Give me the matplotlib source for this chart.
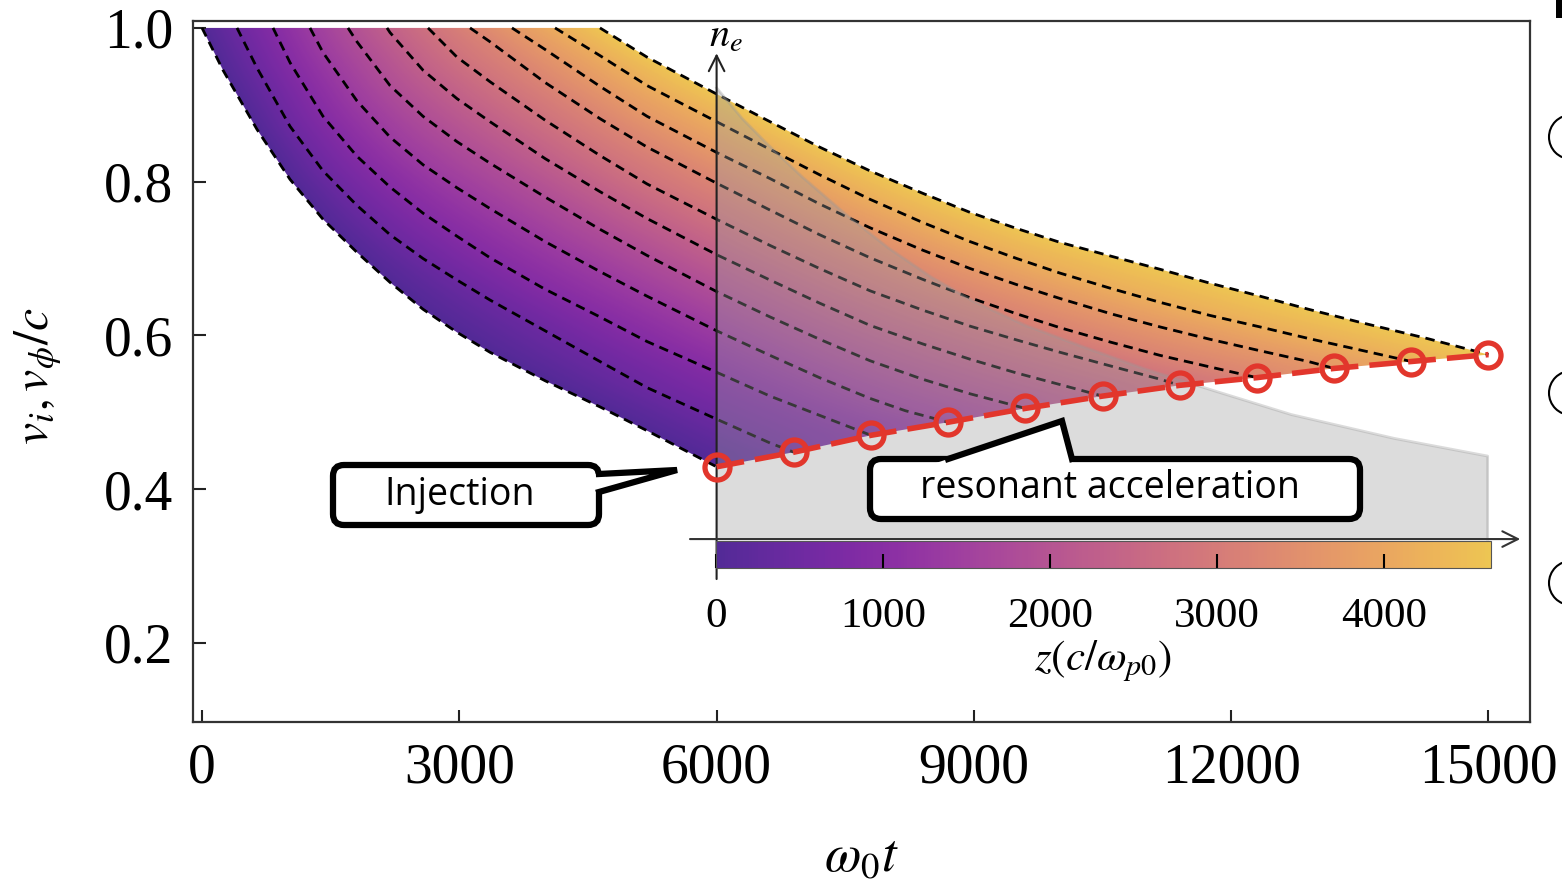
import numpy as np
import matplotlib
matplotlib.use("Agg")
import matplotlib.pyplot as plt
from matplotlib.colors import ListedColormap, Normalize
from matplotlib.cm import ScalarMappable
from matplotlib.patches import Polygon, FancyBboxPatch, Circle, Rectangle
from matplotlib.lines import Line2D
from matplotlib.transforms import Affine2D

# injection / resonance points (red line)
t_inj = [6000, 6900, 7800, 8700, 9600, 10500, 11400, 12300, 13200, 14100, 15000]
v_inj = [0.429, 0.448, 0.470, 0.487, 0.505, 0.521, 0.535, 0.545, 0.557, 0.566, 0.575]
z_inj = [0, 460, 925, 1390, 1850, 2310, 2775, 3235, 3695, 4160, 4640]

# phase velocity curves, one per injection position
t_c0 = [0, 245, 641, 1026, 1411, 1807, 2192, 2577, 2973, 3358, 4000, 4640, 5189, 6000]
v_c0 = [1.0, 0.945, 0.868, 0.803, 0.751, 0.708, 0.669, 0.634, 0.604, 0.578, 0.541, 0.507, 0.476, 0.429]
t_c1 = [408, 641, 1026, 1411, 1807, 2192, 2577, 2973, 3358, 4000, 4640, 5189, 6000, 6623, 6900]
v_c1 = [1.0, 0.948, 0.872, 0.814, 0.769, 0.731, 0.700, 0.672, 0.646, 0.606, 0.566, 0.532, 0.491, 0.460, 0.448]
t_c2 = [828, 1026, 1411, 1807, 2192, 2577, 2973, 3358, 4000, 4640, 5189, 6000, 6623, 7200, 7800]
v_c2 = [1.0, 0.955, 0.885, 0.833, 0.793, 0.759, 0.729, 0.701, 0.660, 0.624, 0.592, 0.552, 0.521, 0.496, 0.470]
t_c3 = [1259, 1411, 1807, 2192, 2577, 2973, 3358, 4000, 4640, 5189, 6000, 6623, 7200, 7789, 8200, 8700]
v_c3 = [1.0, 0.968, 0.905, 0.858, 0.822, 0.792, 0.765, 0.722, 0.683, 0.651, 0.606, 0.574, 0.545, 0.518, 0.502, 0.487]
t_c4 = [1702, 1807, 2192, 2577, 2973, 3358, 4000, 4640, 5189, 6000, 6623, 7200, 7789, 8400, 8955, 9600]
v_c4 = [1.0, 0.982, 0.925, 0.885, 0.852, 0.824, 0.780, 0.738, 0.704, 0.657, 0.624, 0.595, 0.567, 0.543, 0.524, 0.505]
t_c5 = [2157, 2192, 2577, 2973, 3358, 4000, 4640, 5189, 6000, 6623, 7200, 7789, 8400, 8955, 9500, 10004, 10500]
v_c5 = [1.0, 0.994, 0.945, 0.908, 0.878, 0.830, 0.787, 0.752, 0.705, 0.672, 0.642, 0.613, 0.589, 0.569, 0.551, 0.536, 0.521]
t_c6 = [2635, 2973, 3358, 4000, 4640, 5189, 6000, 6623, 7200, 7789, 8400, 8955, 9500, 10004, 10600, 11170, 11400]
v_c6 = [1.0, 0.962, 0.930, 0.880, 0.834, 0.797, 0.751, 0.717, 0.687, 0.658, 0.633, 0.612, 0.594, 0.578, 0.560, 0.543, 0.535]
t_c7 = [3125, 3358, 4000, 4640, 5189, 6000, 6623, 7200, 7789, 8400, 8955, 9500, 10004, 10600, 11170, 11750, 12300]
v_c7 = [1.0, 0.982, 0.929, 0.882, 0.845, 0.798, 0.763, 0.731, 0.701, 0.673, 0.649, 0.628, 0.610, 0.591, 0.574, 0.559, 0.545]
t_c8 = [3614, 4000, 4640, 5189, 6000, 6623, 7200, 7789, 8400, 8955, 9500, 10004, 10600, 11170, 11750, 12336, 12900, 13200]
v_c8 = [1.0, 0.972, 0.924, 0.885, 0.838, 0.804, 0.771, 0.740, 0.711, 0.687, 0.666, 0.648, 0.628, 0.611, 0.595, 0.580, 0.566, 0.557]
t_c9 = [4116, 4640, 5189, 6000, 6623, 7200, 7789, 8400, 8955, 9500, 10004, 10600, 11170, 11750, 12336, 12900, 13502, 14100]
v_c9 = [1.0, 0.964, 0.925, 0.878, 0.842, 0.809, 0.777, 0.747, 0.722, 0.700, 0.681, 0.661, 0.643, 0.626, 0.611, 0.596, 0.581, 0.566]
t_c10 = [4640, 5189, 6000, 6623, 7200, 7789, 8400, 8955, 9500, 10004, 10600, 11170, 11750, 12336, 12900, 13502, 14283, 15000]
v_c10 = [1.0, 0.962, 0.914, 0.878, 0.845, 0.814, 0.785, 0.760, 0.739, 0.721, 0.703, 0.686, 0.668, 0.651, 0.634, 0.617, 0.596, 0.575]

# density profile sketched in the inset (in main-axis units)
t_ne = [6000, 6300, 6600, 7000, 7500, 8000, 8500, 9000, 9600, 10300, 11000, 11800, 12700, 13900, 14990]
v_ne = [0.922, 0.882, 0.848, 0.806, 0.758, 0.714, 0.676, 0.644, 0.613, 0.584, 0.556, 0.528, 0.497, 0.466, 0.443]

xticks = [0, 3000, 6000, 9000, 12000, 15000]
yticks = [0.2, 0.4, 0.6, 0.8, 1.0]
zticks = [0, 1000, 2000, 3000, 4000]

curves = [(t_c0, v_c0), (t_c1, v_c1), (t_c2, v_c2), (t_c3, v_c3), (t_c4, v_c4), (t_c5, v_c5),
          (t_c6, v_c6), (t_c7, v_c7), (t_c8, v_c8), (t_c9, v_c9), (t_c10, v_c10)]

plt.rcParams['font.family'] = ['Liberation Serif', 'DejaVu Serif']
plt.rcParams['mathtext.fontset'] = 'stix'

W, H = 1562, 888
fig = plt.figure(figsize=(W / 100, H / 100), dpi=100)
ax = fig.add_axes([193 / W, 1 - 722 / H, (1530 - 193) / W, (722 - 21) / H])

# muted plasma map
cols = plt.get_cmap('plasma')(np.linspace(0.09, 0.88, 256))
rgb = cols[:, :3]
rgb = rgb * 0.8 + 0.2 * rgb.mean(axis=1, keepdims=True)
cols[:, :3] = rgb * 0.9 + 0.1
cmap = ListedColormap(cols)

# colour field: each curve carries the colour of its injection position
T = np.linspace(-150, 15500, 1500)
V = np.linspace(0.40, 1.01, 800)
TK = np.array([np.interp(V, np.asarray(v)[::-1], np.asarray(t)[::-1]) for t, v in curves])
Z = np.array([np.interp(T, TK[:, j], z_inj) for j in range(len(V))])
im = ax.imshow(Z, extent=[T[0], T[-1], V[0], V[-1]], origin='lower', aspect='auto',
               cmap=cmap, vmin=0, vmax=4640, interpolation='bilinear', zorder=1)
pt = list(t_c0) + t_inj[1:] + t_c10[::-1][1:]
pv = list(v_c0) + v_inj[1:] + v_c10[::-1][1:]
region = Polygon(np.column_stack([pt, pv]), closed=True, transform=ax.transData)
im.set_clip_path(region)

for t, v in curves:
    ax.plot(t, v, color='black', lw=2.0, dashes=(3.4, 2.2), zorder=2)

# inset: density profile
y_base = 0.335
ax.fill_between(t_ne, y_base, v_ne, color='0.62', alpha=0.36, lw=0, zorder=3)
ax.plot(t_ne + [t_ne[-1]], v_ne + [y_base], color='0.6', alpha=0.35, lw=2, zorder=3)
ax.annotate('', xy=(6000, 0.967), xytext=(6000, 0.283),
            arrowprops=dict(arrowstyle='->', lw=1.5, color='#222', mutation_scale=28,
                            shrinkA=0, shrinkB=0), zorder=4)
ax.annotate('', xy=(15370, y_base), xytext=(5690, y_base),
            arrowprops=dict(arrowstyle='->', lw=1.5, color='#333', mutation_scale=28,
                            shrinkA=0, shrinkB=0), zorder=4)
ax.text(6110, 0.988, r'$n_e$', fontsize=29, ha='center', va='center', zorder=4)

ax.plot(t_inj, v_inj, color='#e2362c', lw=4.0, dashes=(5.0, 2.0), marker='o', ms=18,
        mfc='none', mec='#e2362c', mew=3.8, zorder=6)

ax.set_xlim(-105, 15484)
ax.set_ylim(0.097, 1.009)
ax.set_xticks(xticks)
ax.set_xticklabels([str(x) for x in xticks])
ax.set_yticks(yticks)
ax.set_yticklabels([f'{y:.1f}' for y in yticks])
ax.tick_params(direction='in', length=9, width=1.5, labelsize=40, color='#222')
ax.tick_params(axis='x', pad=15)
ax.tick_params(axis='y', pad=14)
for s in ax.spines.values():
    s.set_linewidth(1.6)
    s.set_color('#333')

ax.set_xlabel(r'$\omega_0 t$', fontsize=38)
ax.xaxis.set_label_coords(0.5, -(858 - 722) / 701)
ax.xaxis.label.set_va('center')
ax.set_ylabel(r'$v_i, v_\phi/c$', fontsize=36)
ax.yaxis.set_label_coords(-(193 - 38) / 1337, (722 - 376) / 701)
ax.yaxis.label.set_va('center')

# inset colour bar
cax = fig.add_axes([716 / W, 1 - 568 / H, (1491 - 716) / W, 27 / H])
cb = fig.colorbar(ScalarMappable(norm=Normalize(0, 4640), cmap=cmap), cax=cax,
                  orientation='horizontal')
cb.set_ticks(zticks)
cb.set_ticklabels([str(z) for z in zticks])
cb.outline.set_linewidth(0.8)
cb.outline.set_edgecolor('#555')
cax.tick_params(direction='in', length=10, width=1.5, labelsize=31, pad=21)
cax.set_xlabel(r'$z(c/\omega_{p0})$', fontsize=31, labelpad=2)

# speech-bubble callouts, drawn in image pixel coordinates
pix = Affine2D().scale(0.01, -0.01).translate(0, H / 100) + fig.dpi_scale_trans


def bubble(x0, y0, w, h, base1, tip, base2, text, tx, ty):
    box = FancyBboxPatch((x0, y0), w, h, boxstyle='round,pad=0,rounding_size=11',
                         transform=pix, fc='white', ec='black', lw=4.5, zorder=10)
    fig.add_artist(box)
    pts = []
    for b in (base1, base2):
        pts.append((b[0] + 0.12 * (b[0] - tip[0]), b[1] + 0.12 * (b[1] - tip[1])))
    fill = Polygon([pts[0], tip, pts[1]], closed=True, transform=pix, fc='white', ec='none',
                   zorder=11)
    fig.add_artist(fill)
    edge = Line2D([base1[0], tip[0], base2[0]], [base1[1], tip[1], base2[1]], transform=pix,
                  color='black', lw=4.5, solid_joinstyle='miter', zorder=12)
    fig.add_artist(edge)
    fig.text(tx / W, 1 - ty / H, text, fontsize=27, family='Open Sans', ha='center',
             va='center', zorder=13)


bubble(333, 465, 266, 60, (599, 474), (677, 470), (599, 492), 'Injection', 460, 495)
bubble(870, 459, 490, 60, (948, 459), (1062, 421), (1072, 459), 'resonant acceleration', 1110, 488)

# edge of the neighbouring panel
for cy in (137, 393, 583):
    fig.add_artist(Circle((1571, cy), 22, transform=pix, fc='none', ec='black', lw=1.5))
fig.add_artist(Rectangle((1556, 0), 6, 18, transform=pix, fc='black', ec='none'))

fig.savefig('out.png', dpi=100, facecolor='white')
